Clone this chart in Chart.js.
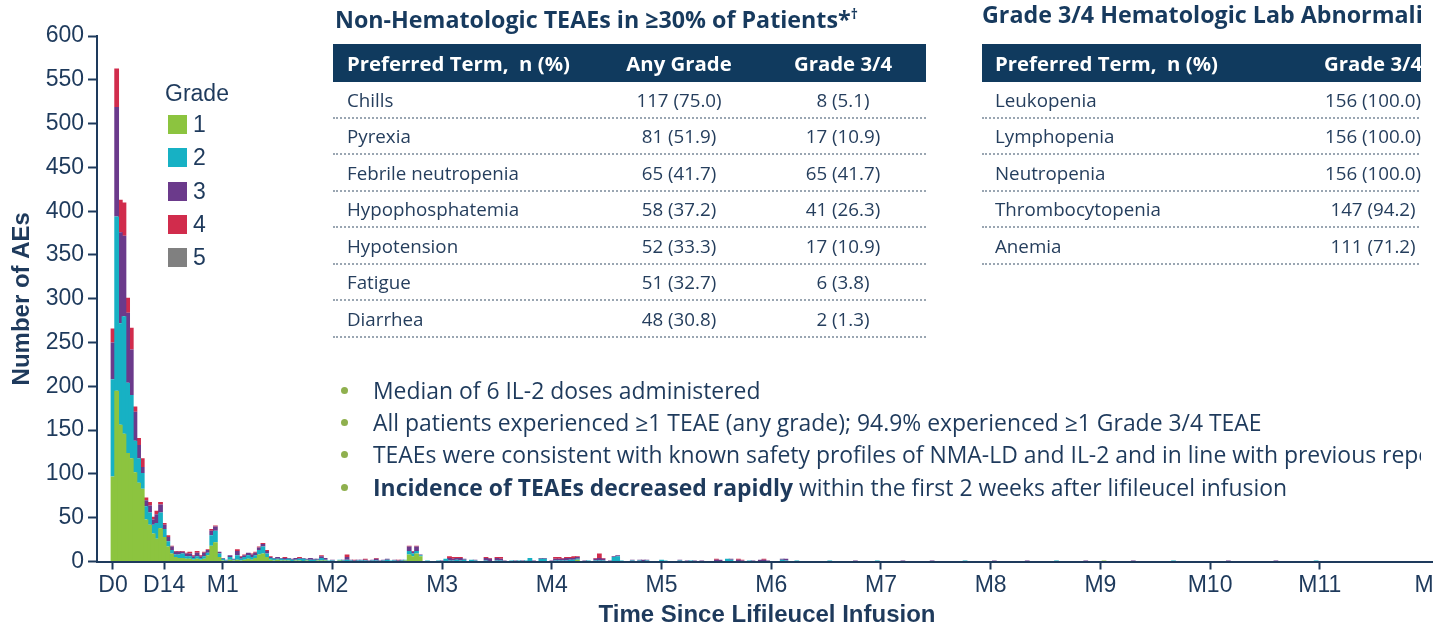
<!DOCTYPE html>
<html>
<head>
<meta charset="utf-8">
<title>AEs over time since lifileucel infusion</title>
<script src="https://cdn.jsdelivr.net/npm/chart.js@4.4.1/dist/chart.umd.min.js"></script>
<style>
  html, body { margin: 0; padding: 0; background: #fff; overflow: hidden; }
  #page { position: relative; width: 1433px; height: 632px; overflow: hidden; color: #1e3a5c; }
  #aeChart { position: absolute; left: 0; top: 0; }
  #overlay { position: absolute; left: 0; top: 0; width: 1421px; height: 632px; overflow: hidden; }
  .txt { font-family: "Open Sans", sans-serif; white-space: nowrap; }
  .ttl { position: absolute; top: 0; font-weight: 700; font-size: var(--ttl, 21px); line-height: 28px; color: #173a5e; }
  .tbl { position: absolute; top: 44px; }
  .head { position: relative; height: 38px; background: #103a5e; color: #fff; font-weight: 700; font-size: var(--head, 18px); }
  .row { position: relative; height: 34.5px; border-bottom: 2px dotted #9aa6b2; font-size: var(--row, 17px); color: #253e5d; }
  .cell { position: absolute; top: 0; bottom: 0; display: flex; align-items: center; }
  .cell.c { justify-content: center; }
  #legend { position: absolute; left: 165px; top: 78px; font-family: "Liberation Sans", Arial, sans-serif; font-size: 23px; }
  #legend .lt { height: 30px; line-height: 30px; }
  #legend .li { height: 33.3px; display: flex; align-items: center; }
  #legend .sw { width: 19px; height: 19px; margin: 0 6px 0 3px; }
  #bullets { position: absolute; left: 333px; top: 374px; }
  #bullets .b { position: relative; height: 32.3px; display: flex; align-items: center; font-size: var(--bul, 20px); }
  #bullets .dot { position: absolute; left: 8px; width: 7px; height: 7px; border-radius: 50%; background: #8fb04e; }
  #bullets .bt { position: absolute; left: 40px; }
</style>
</head>
<body>
<div id="page">
  <canvas id="aeChart" width="1437" height="632"></canvas>
  <div id="legend"></div>
  <div id="overlay">
    <div class="ttl txt" id="t1" style="left:335px">Non-Hematologic TEAEs in ≥30% of Patients*<sup style="font-size:0.6em">†</sup></div>
    <div class="ttl txt" id="t2" style="left:982px">Grade 3/4 Hematologic Lab Abnormalities</div>
    <div class="tbl txt" id="tblA" style="left:333px; width:593px"></div>
    <div class="tbl txt" id="tblB" style="left:982px; width:600px"></div>
    <div id="bullets" class="txt"></div>
  </div>
</div>
<script>
// daily AE counts by grade
const days = Array.from({length: 191}, (_, i) => i)
  .concat([196, 203, 209, 216, 224, 233, 241, 250, 258, 266, 271, 279, 290, 305, 318, 329]);

const gradeOne = [
  97, 195, 156, 146, 124, 118, 102, 90, 83, 48,
  42, 32, 26, 38, 28, 17, 9, 5, 4, 4,
  3, 3, 2, 3, 2, 3, 7, 18, 22, 5,
  1, 0, 2, 1, 2, 1, 2, 3, 2, 4,
  8, 9, 5, 2, 1, 2, 1, 1, 1, 0,
  1, 1, 0, 1, 0, 0, 1, 1, 1, 0,
  0, 0, 1, 0, 0, 0, 0, 0, 0, 0,
  0, 0, 0, 0, 0, 0, 0, 0, 0, 0,
  1, 8, 6, 9, 6, 0, 0, 0, 0, 0,
  0, 0, 0, 0, 0, 0, 0, 0, 0, 0,
  0, 0, 0, 0, 0, 0, 0, 0, 0, 0,
  0, 0, 0, 0, 0, 0, 0, 0, 0, 0,
  0, 0, 0, 0, 0, 0, 0, 2, 0, 0,
  0, 0, 0, 0, 0, 0, 0, 0, 0, 0,
  0, 0, 0, 0, 0, 0, 0, 0, 0, 0,
  0, 0, 0, 0, 0, 0, 0, 0, 0, 0,
  0, 0, 0, 0, 0, 0, 0, 0, 0, 0,
  0, 0, 0, 0, 0, 0, 0, 0, 0, 0,
  0, 0, 0, 0, 0, 0, 0, 0, 0, 0, 0,
  0, 0, 0, 0, 0, 0, 0, 0, 0, 0, 1, 0, 0, 0, 0, 0
];
const gradeTwo = [
  111, 199, 116, 134, 80, 72, 36, 28, 18, 15,
  14, 10, 18, 18, 9, 6, 4, 3, 4, 5,
  3, 3, 2, 3, 2, 3, 3, 12, 13, 4,
  2, 1, 3, 1, 5, 2, 3, 4, 3, 3,
  5, 8, 4, 2, 2, 1, 2, 1, 2, 2,
  1, 2, 3, 1, 2, 2, 1, 3, 1, 1,
  1, 0, 1, 1, 2, 1, 0, 1, 1, 1,
  0, 1, 1, 0, 1, 2, 1, 1, 0, 1,
  1, 4, 3, 3, 1, 0, 1, 0, 0, 1,
  0, 3, 1, 1, 2, 1, 2, 0, 2, 1,
  0, 0, 1, 0, 0, 1, 1, 0, 0, 1,
  0, 1, 0, 1, 4, 0, 0, 3, 3, 0,
  0, 1, 1, 1, 1, 2, 2, 1, 0, 0,
  1, 0, 1, 1, 1, 0, 0, 5, 6, 1,
  0, 0, 1, 0, 1, 0, 1, 0, 0, 0,
  2, 1, 0, 0, 0, 1, 0, 0, 1, 0,
  0, 0, 0, 0, 0, 0, 0, 0, 3, 2,
  0, 0, 0, 0, 1, 0, 0, 0, 0, 0,
  0, 0, 0, 2, 1, 0, 0, 1, 0, 0, 0,
  1, 0, 1, 0, 0, 1, 0, 0, 1, 0, 0, 0, 1, 0, 0, 1
];
const gradeThree = [
  42, 125, 104, 92, 80, 52, 33, 15, 7, 7,
  8, 6, 10, 9, 5, 5, 4, 3, 3, 2,
  3, 3, 2, 4, 2, 4, 3, 5, 5, 2,
  1, 1, 2, 1, 5, 2, 2, 3, 3, 3,
  3, 3, 3, 1, 1, 2, 1, 2, 1, 1,
  2, 1, 1, 1, 2, 1, 1, 2, 2, 0,
  1, 0, 0, 1, 3, 1, 1, 1, 1, 1,
  1, 1, 2, 1, 1, 1, 0, 1, 1, 1,
  0, 5, 2, 5, 1, 0, 0, 0, 0, 0,
  1, 0, 3, 2, 2, 3, 1, 0, 0, 1,
  0, 0, 3, 3, 0, 3, 2, 1, 0, 0,
  1, 0, 1, 0, 0, 1, 0, 1, 1, 0,
  1, 2, 2, 2, 3, 2, 2, 2, 0, 1,
  0, 0, 2, 3, 2, 0, 1, 1, 1, 0,
  0, 0, 1, 0, 1, 2, 1, 0, 0, 0,
  0, 0, 0, 0, 0, 1, 0, 1, 0, 1,
  0, 1, 0, 0, 0, 2, 2, 0, 0, 1,
  0, 2, 1, 0, 0, 1, 0, 2, 2, 1,
  0, 0, 0, 1, 2, 0, 0, 0, 0, 0, 0,
  0, 1, 0, 1, 1, 0, 1, 1, 0, 1, 0, 1, 0, 1, 1, 0
];
const gradeFour = [
  16, 44, 37, 38, 17, 25, 6, 8, 10, 3,
  4, 3, 4, 3, 2, 2, 1, 1, 1, 1,
  1, 2, 1, 2, 1, 1, 1, 2, 1, 0,
  0, 0, 0, 0, 2, 1, 1, 0, 1, 1,
  1, 1, 1, 1, 0, 0, 0, 1, 0, 0,
  0, 1, 0, 0, 0, 0, 0, 1, 0, 0,
  0, 0, 0, 0, 3, 0, 1, 0, 0, 1,
  0, 0, 1, 0, 0, 0, 0, 0, 1, 0,
  0, 1, 1, 1, 0, 0, 0, 0, 0, 0,
  0, 0, 2, 2, 1, 1, 0, 0, 0, 0,
  0, 0, 1, 1, 0, 1, 2, 0, 0, 0,
  0, 0, 0, 0, 0, 0, 0, 0, 0, 0,
  0, 2, 2, 1, 1, 1, 2, 1, 0, 0,
  0, 0, 1, 5, 1, 0, 0, 0, 0, 0,
  0, 0, 0, 0, 0, 0, 0, 0, 0, 0,
  0, 0, 0, 0, 0, 0, 0, 0, 0, 0,
  0, 0, 0, 0, 0, 1, 0, 0, 0, 0,
  0, 1, 1, 0, 0, 0, 0, 0, 1, 0,
  0, 0, 0, 0, 0, 0, 0, 0, 0, 0, 0,
  0, 0, 0, 0, 0, 0, 0, 0, 0, 0, 0, 0, 0, 0, 0, 0
];
const gradeFive = days.map(() => 0);

const gradeLabels = ['1', '2', '3', '4', '5'];
const gradeColors = ['#8cc43f', '#17b1c4', '#6b3a8b', '#d12c4c', '#808080'];
const gradeSeries = [gradeOne, gradeTwo, gradeThree, gradeFour, gradeFive];

const tickDays = [0, 14, 30, 60, 90, 120, 150, 180, 210, 240, 270, 300, 330, 362];
const tickLabels = ['D0', 'D14', 'M1', 'M2', 'M3', 'M4', 'M5', 'M6', 'M7', 'M8', 'M9', 'M10', 'M11', 'M12'];

// tables and notes
const nonHemTerms = ['Chills', 'Pyrexia', 'Febrile neutropenia', 'Hypophosphatemia', 'Hypotension', 'Fatigue', 'Diarrhea'];
const nonHemAny = ['117 (75.0)', '81 (51.9)', '65 (41.7)', '58 (37.2)', '52 (33.3)', '51 (32.7)', '48 (30.8)'];
const nonHemG34 = ['8 (5.1)', '17 (10.9)', '65 (41.7)', '41 (26.3)', '17 (10.9)', '6 (3.8)', '2 (1.3)'];
const hemTerms = ['Leukopenia', 'Lymphopenia', 'Neutropenia', 'Thrombocytopenia', 'Anemia'];
const hemG34 = ['156 (100.0)', '156 (100.0)', '156 (100.0)', '147 (94.2)', '111 (71.2)'];
const notes = [
  'Median of 6 IL-2 doses administered',
  'All patients experienced ≥1 TEAE (any grade); 94.9% experienced ≥1 Grade 3/4 TEAE',
  'TEAEs were consistent with known safety profiles of NMA-LD and IL-2 and in line with previous reports',
  '<b>Incidence of TEAEs decreased rapidly</b> within the first 2 weeks after lifileucel infusion'
];

const navy = '#1e3a5c';
const axisFont = '"Liberation Sans", Arial, sans-serif';

function cell(text, left, width, center) {
  const c = document.createElement('div');
  c.className = 'cell' + (center ? ' c' : '');
  c.style.left = left + 'px';
  if (width) c.style.width = width + 'px';
  c.innerHTML = '<span>' + text + '</span>';
  return c;
}

function buildTable(el, headers, cols, colPos) {
  const head = document.createElement('div');
  head.className = 'head';
  headers.forEach((h, i) => head.appendChild(cell(h, colPos[i][0], colPos[i][1], i > 0)));
  el.appendChild(head);
  cols[0].forEach((_, r) => {
    const row = document.createElement('div');
    row.className = 'row';
    cols.forEach((col, i) => row.appendChild(cell(col[r], colPos[i][0], colPos[i][1], i > 0)));
    el.appendChild(row);
  });
}

buildTable(document.getElementById('tblA'),
  ['Preferred Term,&nbsp; n (%)', 'Any Grade', 'Grade 3/4'],
  [nonHemTerms, nonHemAny, nonHemG34],
  [[14, 0], [276, 140], [440, 140]]);
buildTable(document.getElementById('tblB'),
  ['Preferred Term,&nbsp; n (%)', 'Grade 3/4'],
  [hemTerms, hemG34],
  [[13, 0], [321, 140]]);

const bul = document.getElementById('bullets');
notes.forEach(n => {
  const b = document.createElement('div');
  b.className = 'b';
  b.innerHTML = '<span class="dot"></span><span class="bt">' + n + '</span>';
  bul.appendChild(b);
});

const leg = document.getElementById('legend');
leg.innerHTML = '<div class="lt">Grade</div>';
gradeLabels.forEach((g, i) => {
  const li = document.createElement('div');
  li.className = 'li';
  li.innerHTML = '<span class="sw" style="background:' + gradeColors[i] + '"></span><span>' + g + '</span>';
  leg.appendChild(li);
});

// match text widths to the slide
function fitVar(el, name, target) {
  const w = el.getBoundingClientRect().width;
  const fs = parseFloat(getComputedStyle(el).fontSize);
  document.documentElement.style.setProperty(name, (fs * target / w).toFixed(2) + 'px');
}
fitVar(document.getElementById('t1'), '--ttl', 523);
fitVar(document.querySelector('#tblA .head span'), '--head', 223);
fitVar(document.querySelectorAll('#tblA .row')[2].querySelector('span'), '--row', 172);
fitVar(document.querySelectorAll('#bullets .bt')[1], '--bul', 889);

const ctx = document.getElementById('aeChart').getContext('2d');
new Chart(ctx, {
  type: 'bar',
  data: {
    datasets: gradeLabels.map((g, i) => ({
      label: g,
      data: days.map((d, j) => ({x: d, y: gradeSeries[i][j]})),
      backgroundColor: gradeColors[i],
      borderWidth: 0,
      barPercentage: 1.3,
      categoryPercentage: 1
    }))
  },
  options: {
    responsive: false,
    animation: false,
    layout: {padding: {top: 36, left: 0, right: 0, bottom: 0}},
    plugins: {legend: {display: false}, tooltip: {enabled: false}},
    scales: {
      x: {
        type: 'linear',
        stacked: true,
        offset: false,
        bounds: 'data',
        min: -4.375,
        max: 362.05,
        afterBuildTicks: s => { s.ticks = tickDays.map(v => ({value: v})); },
        afterFit: s => { s.paddingLeft = 0; s.paddingRight = 0; s.height = 70.5; },
        grid: {drawOnChartArea: false, drawTicks: true, tickLength: 8, tickWidth: 2, tickColor: navy, offset: false},
        border: {color: navy, width: 2},
        ticks: {
          autoSkip: false, maxRotation: 0, padding: 2, color: navy,
          font: {family: axisFont, size: 23},
          callback: v => tickLabels[tickDays.indexOf(v)]
        },
        title: {
          display: true, text: 'Time Since Lifileucel Infusion', color: navy,
          font: {family: axisFont, size: 24, weight: 'bold'}, padding: {top: 0, bottom: 2}
        }
      },
      y: {
        stacked: true,
        min: 0,
        max: 600,
        afterFit: s => { s.width = 97; },
        grid: {drawOnChartArea: false, drawTicks: true, tickLength: 9, tickWidth: 2, tickColor: navy},
        border: {color: navy, width: 2},
        ticks: {stepSize: 50, padding: 4, color: navy, font: {family: axisFont, size: 23}},
        title: {
          display: true, text: 'Number of AEs', color: navy,
          font: {family: axisFont, size: 24, weight: 'bold'}, padding: {top: 8, bottom: 0}
        }
      }
    }
  }
});
</script>
</body>
</html>
